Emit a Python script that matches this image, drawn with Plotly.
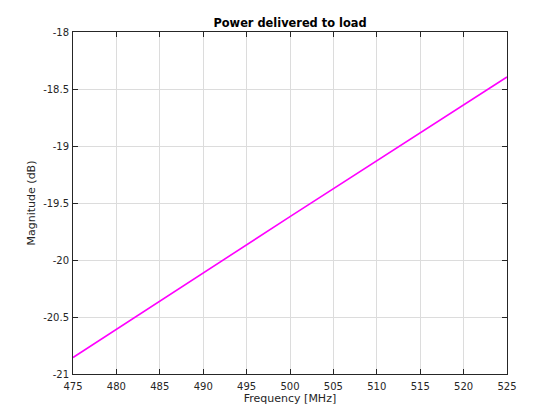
import plotly.graph_objects as go

freq_mhz = [475, 500, 525]
magnitude_db = [-20.855, -19.62, -18.395]
x_ticks = [475, 480, 485, 490, 495, 500, 505, 510, 515, 520, 525]
y_ticks = [-21, -20.5, -20, -19.5, -19, -18.5, -18]
y_labels = ["-21", "-20.5", "-20", "-19.5", "-19", "-18.5", "-18"]

fig = go.Figure()
fig.add_trace(go.Scatter(x=freq_mhz, y=magnitude_db, mode="lines",
                         line=dict(color="#ff00ff", width=1.6)))

axis_common = dict(showline=True, linecolor="#262626", linewidth=1, mirror="allticks",
                   ticks="inside", ticklen=5, tickcolor="#262626", automargin=False,
                   showgrid=True, gridcolor="#dcdcdc", gridwidth=1, zeroline=False,
                   tickfont=dict(family="DejaVu Sans", size=10, color="#262626"))

# page body has an 8px margin, so the figure is offset by 8px right and down
fig.update_layout(
    width=552, height=412,
    margin=dict(l=65, r=53, t=23.5, b=46),
    paper_bgcolor="white", plot_bgcolor="white",
    showlegend=False,
    title=dict(text="<b>Power delivered to load</b>", x=0.5, xanchor="center",
               xref="paper", y=1, yref="paper", yanchor="bottom", pad=dict(b=5),
               font=dict(family="DejaVu Sans", size=11.4, color="#000000")),
    xaxis=dict(range=[475, 525], tickvals=x_ticks, ticklabelstandoff=3,
               title=dict(text="Frequency [MHz]", standoff=3,
                          font=dict(family="DejaVu Sans", size=11, color="#262626")),
               **axis_common),
    yaxis=dict(range=[-21, -18], tickvals=y_ticks, ticktext=y_labels, ticklabelstandoff=1,
               title=dict(text="Magnitude (dB)", standoff=5,
                          font=dict(family="DejaVu Sans", size=11, color="#262626")),
               **axis_common),
)

fig.write_html("out.html")
